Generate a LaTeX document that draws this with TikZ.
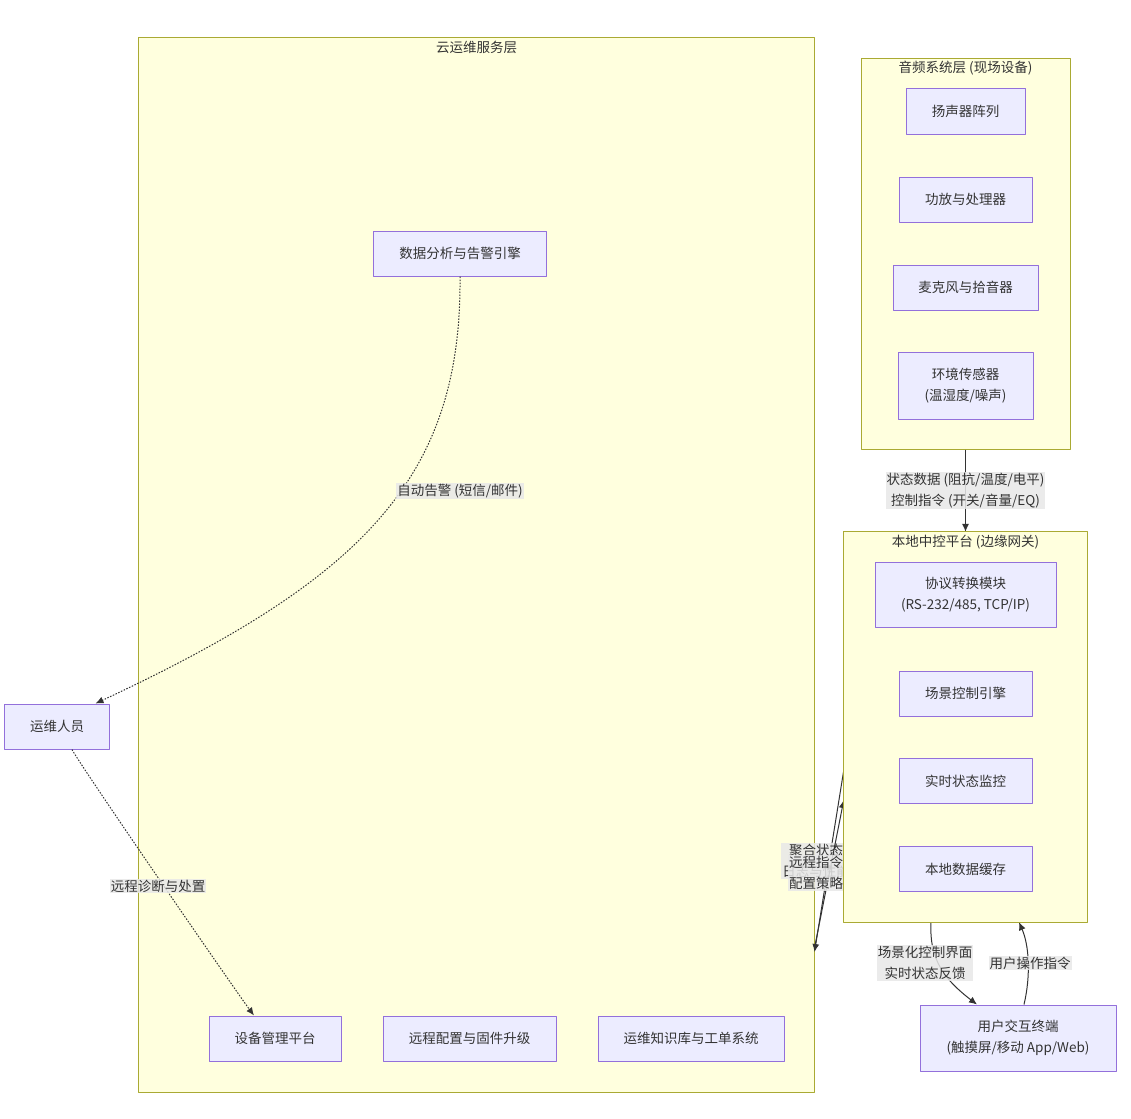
\documentclass[tikz,border=0pt]{standalone}
\usepackage{fontspec}
\setmainfont{Noto Sans CJK SC}
\usetikzlibrary{arrows.meta}

\definecolor{nodefill}{HTML}{ECECFF}
\definecolor{nodestroke}{HTML}{9370DB}
\definecolor{clusterfill}{HTML}{FFFFDE}
\definecolor{clusterstroke}{HTML}{AAAA33}
\definecolor{edgecol}{HTML}{333333}
\definecolor{labelbg}{HTML}{E8E8E8}

\begin{document}
\begin{tikzpicture}[x=1bp,y=-1bp,>={Latex[length=8bp,width=7bp]},line join=bevel,
  every node/.style={font=\fontsize{13.5bp}{21bp}\selectfont,text=edgecol},
  box/.style={draw=nodestroke,fill=nodefill,line width=1bp,minimum height=45bp,align=center,inner sep=0pt},
  cluster/.style={draw=clusterstroke,fill=clusterfill,line width=1bp,inner sep=0pt},
  cltitle/.style={anchor=north,inner sep=3.5bp},
  elabel/.style={fill=labelbg,fill opacity=0.85,text opacity=1,align=center,inner sep=1bp},
  link/.style={draw=edgecol,line width=1bp,->},
  dotlink/.style={draw=edgecol,line width=1bp,->,dash pattern=on 1.5bp off 1.5bp}]
\useasboundingbox (0,0) rectangle (1131,1119);
%%
  % Cluster: cloud
\node[cluster,minimum width=675bp,minimum height=1054bp] (cloud) at (476.5,565) {};
\node[cltitle] (cloudtitle) at (cloud.north) {云运维服务层};
  % Cluster: audio
\node[cluster,minimum width=209bp,minimum height=391bp] (audio) at (965.5,253.5) {};
\node[cltitle] (audiotitle) at (audio.north) {音频系统层 (现场设备)};
  % Cluster: local (filled later, over the edge labels)
\node[inner sep=0pt,minimum width=243bp,minimum height=390bp] (local) at (965.5,727) {};
%
  % Node: analysis
\node[box,minimum width=173bp] (analysis) at (460,253.5) {数据分析与告警引擎};
  % Node: ops
\node[box,minimum width=104bp] (ops) at (57,726.5) {运维人员};
  % Node: devmgmt
\node[box,minimum width=132bp] (devmgmt) at (275,1038.5) {设备管理平台};
  % Node: remotecfg
\node[box,minimum width=173bp] (remotecfg) at (469.5,1038.5) {远程配置与固件升级};
  % Node: knowledge
\node[box,minimum width=186bp] (knowledge) at (691,1038.5) {运维知识库与工单系统};
  % Node: speaker
\node[box,minimum width=119bp,minimum height=46bp] (speaker) at (965.5,111) {扬声器阵列};
  % Node: amp
\node[box,minimum width=133bp] (amp) at (965.5,199.5) {功放与处理器};
  % Node: mic
\node[box,minimum width=145bp] (mic) at (965.5,287.5) {麦克风与拾音器};
  % Node: sensor
\node[box,minimum width=135bp,minimum height=67bp] (sensor) at (965.5,385.5) {环境传感器\\(温湿度/噪声)};
  % Node: terminal
\node[box,minimum width=196bp,minimum height=66bp] (terminal) at (1018,1038) {用户交互终端\\(触摸屏/移动 App/Web)};
%
  % Edge: analysis -> ops
\draw[dotlink] (analysis.south) .. controls (462,480) and (360,580) .. ([xshift=-14bp]ops.north east)
  node[elabel] at (460,491) {自动告警 (短信/邮件)};
  % Edge: ops -> devmgmt
\draw[dotlink] ([xshift=15bp]ops.south) .. controls (80,765) and (235,990) .. ([xshift=-21bp]devmgmt.north)
  node[elabel] at (158,886) {远程诊断与处置};
  % Edge: audio -> local
\draw[link] (audio.south) -- (local.north)
  node[elabel,midway] {状态数据 (阻抗/温度/电平)\\控制指令 (开关/音量/EQ)};
  % Edge: local -> cloud
\draw[link] ([yshift=-43bp]local.west) -- ([yshift=-387bp]cloud.east)
  node[elabel] at (816,861) {聚合状态\\日志与性能};
  % Edge: cloud -> local
\draw[link] ([yshift=-383bp]cloud.east) -- ([yshift=-73bp]local.west)
  node[elabel] at (816,873) {远程指令\\配置策略};
  % Edge: local -> terminal
\draw[link] ([xshift=-34.5bp]local.south) .. controls (929,960) and (945,980) .. ([xshift=-41bp]terminal.north)
  node[elabel] at (925,963) {场景化控制界面\\实时状态反馈};
  % Edge: terminal -> local
\draw[link] ([xshift=6bp]terminal.north) .. controls (1031,975) and (1029,945) .. ([xshift=53.5bp]local.south)
  node[elabel] at (1030,963) {用户操作指令};
%
  % Cluster: local
\draw[cluster] (local.north west) rectangle (local.south east);
\node[cltitle] (localtitle) at (local.north) {本地中控平台 (边缘网关)};
  % Node: protocol
\node[box,minimum width=181bp,minimum height=65bp] (protocol) at (965.5,594.5) {协议转换模块\\(RS-232/485, TCP/IP)};
  % Node: scene
\node[box,minimum width=133bp] (scene) at (965.5,693.5) {场景控制引擎};
  % Node: monitor
\node[box,minimum width=133bp] (monitor) at (965.5,781) {实时状态监控};
  % Node: cache
\node[box,minimum width=133bp] (cache) at (965.5,869) {本地数据缓存};
%
\end{tikzpicture}
\end{document}
